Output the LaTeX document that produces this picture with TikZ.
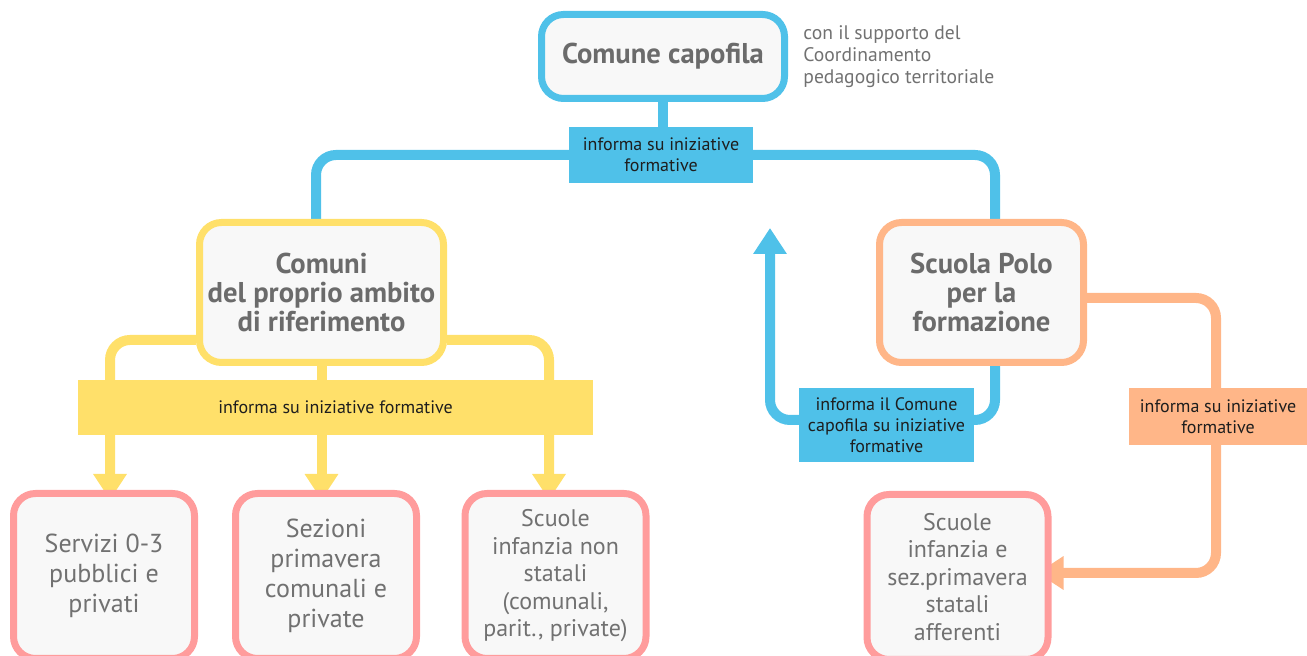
\documentclass[tikz,border=0pt]{standalone}
\usepackage{fontspec}
\setmainfont{PT Sans}
\usetikzlibrary{arrows.meta, positioning, calc, backgrounds}
\definecolor{blueC}{HTML}{4FC1E9}
\definecolor{yellowC}{HTML}{FFE06A}
\definecolor{orangeC}{HTML}{FFB688}
\definecolor{pinkC}{HTML}{FF9C9C}
\definecolor{cardF}{HTML}{F8F8F8}
\definecolor{titleC}{HTML}{6B6B6B}
\definecolor{bodyC}{HTML}{717171}
\definecolor{tagC}{HTML}{1E1E1E}
\tikzset{
    cardB/.style={draw=#1, line width=3.5pt, fill=cardF, rounded corners=11pt, inner sep=0pt, align=center},
    titleT/.style={font=\fontsize{14.3}{14.5}\selectfont\bfseries, text=titleC},
    bodyT/.style={font=\fontsize{13}{15}\selectfont, text=bodyC},
    bodyS/.style={font=\fontsize{12}{13.75}\selectfont, text=bodyC},
    tagB/.style={fill=#1, inner sep=0pt, align=center, font=\fontsize{9}{10.5}\selectfont, text=tagC},
    linkB/.style={draw=#1, line width=5pt, rounded corners=10pt},
    tipB/.style={-{Triangle[width=16pt,length=13pt]}}
}
\begin{document}
\begin{tikzpicture}[x=0.5pt, y=-0.5pt]
    \clip (0,0) rectangle (1307,656);
    % top level
    \node[cardB=blueC, titleT, minimum width=121.5pt, minimum height=42pt] (capofila) at (663,56.5) {Comune capofila};
    \node[anchor=west, inner sep=0pt, align=left, text=bodyC, font=\fontsize{9.8}{11}\selectfont] (supporto) at (803,57) {con il supporto del\\Coordinamento\\pedagogico territoriale};
    \node[tagB=blueC, minimum width=92pt, minimum height=28pt] (tagTop) at (661,155) {informa su iniziative\\formative};
    % second level
    \node[cardB=yellowC, titleT, minimum width=122pt, minimum height=70pt] (comuni) at (321.5,292.5) {Comuni\\del proprio ambito\\di riferimento};
    \node[cardB=orangeC, titleT, minimum width=102pt, minimum height=70pt] (polo) at (981.5,292.5) {Scuola Polo\\per la\\formazione};
    \node[tagB=yellowC, minimum width=257.5pt, minimum height=27.5pt] (tagY) at (335.5,407.5) {informa su iniziative formative};
    \node[tagB=blueC, minimum width=87.5pt, minimum height=37pt] (tagBack) at (886.5,425) {informa il Comune\\capofila su iniziative\\formative};
    \node[tagB=orangeC, minimum width=89pt, minimum height=28.5pt] (tagO) at (1218,416.5) {informa su iniziative\\formative};
    % bottom level
    \node[cardB=pinkC, bodyT, minimum width=90.5pt, minimum height=82.5pt] (sServ) at (104,576) {Servizi 0-3\\pubblici e\\privati};
    \node[cardB=pinkC, bodyT, minimum width=90.5pt, minimum height=82.5pt] (sSez) at (326,576) {Sezioni\\primavera\\comunali e\\private};
    \node[cardB=pinkC, bodyS, minimum width=90.5pt, minimum height=82.5pt] (sScu) at (555.5,576) {Scuole\\infanzia non\\statali\\(comunali,\\parit., private)};
    \node[cardB=pinkC, bodyS, minimum width=90.5pt, minimum height=82.5pt] (sStat) at (957.5,577) {Scuole\\infanzia e\\sez.primavera\\statali\\afferenti};
    \coordinate (upTip) at (770,228);
    \coordinate (bendO) at (1216,573);
    \begin{scope}[on background layer]
    \draw[linkB=blueC] (capofila.south) -- (capofila.south |- tagTop.north);
    \draw[linkB=blueC] ([xshift=-2.75pt]comuni.north) -- ++(0,-64) -| ([xshift=6.75pt]polo.north);
    \draw[linkB=blueC, tipB] ([xshift=6.75pt]polo.south) -- ++(0,54) -| (upTip);
    \draw[linkB=orangeC, tipB] ([yshift=-2.75pt]polo.east) -| (bendO) -- ($(sStat.east |- bendO)+(-14,0)$);
    \draw[linkB=yellowC, tipB] ([yshift=-23.75pt]comuni.west) -| ($(sServ.north)+(6,10)$);
    \draw[linkB=yellowC, tipB] (comuni.south) -- ($(comuni.south |- sSez.north)+(0,10)$);
    \draw[linkB=yellowC, tipB] ([yshift=-23.75pt]comuni.east) -| ($(sScu.north)+(-6.5,10)$);
    \end{scope}
\end{tikzpicture}
\end{document}
